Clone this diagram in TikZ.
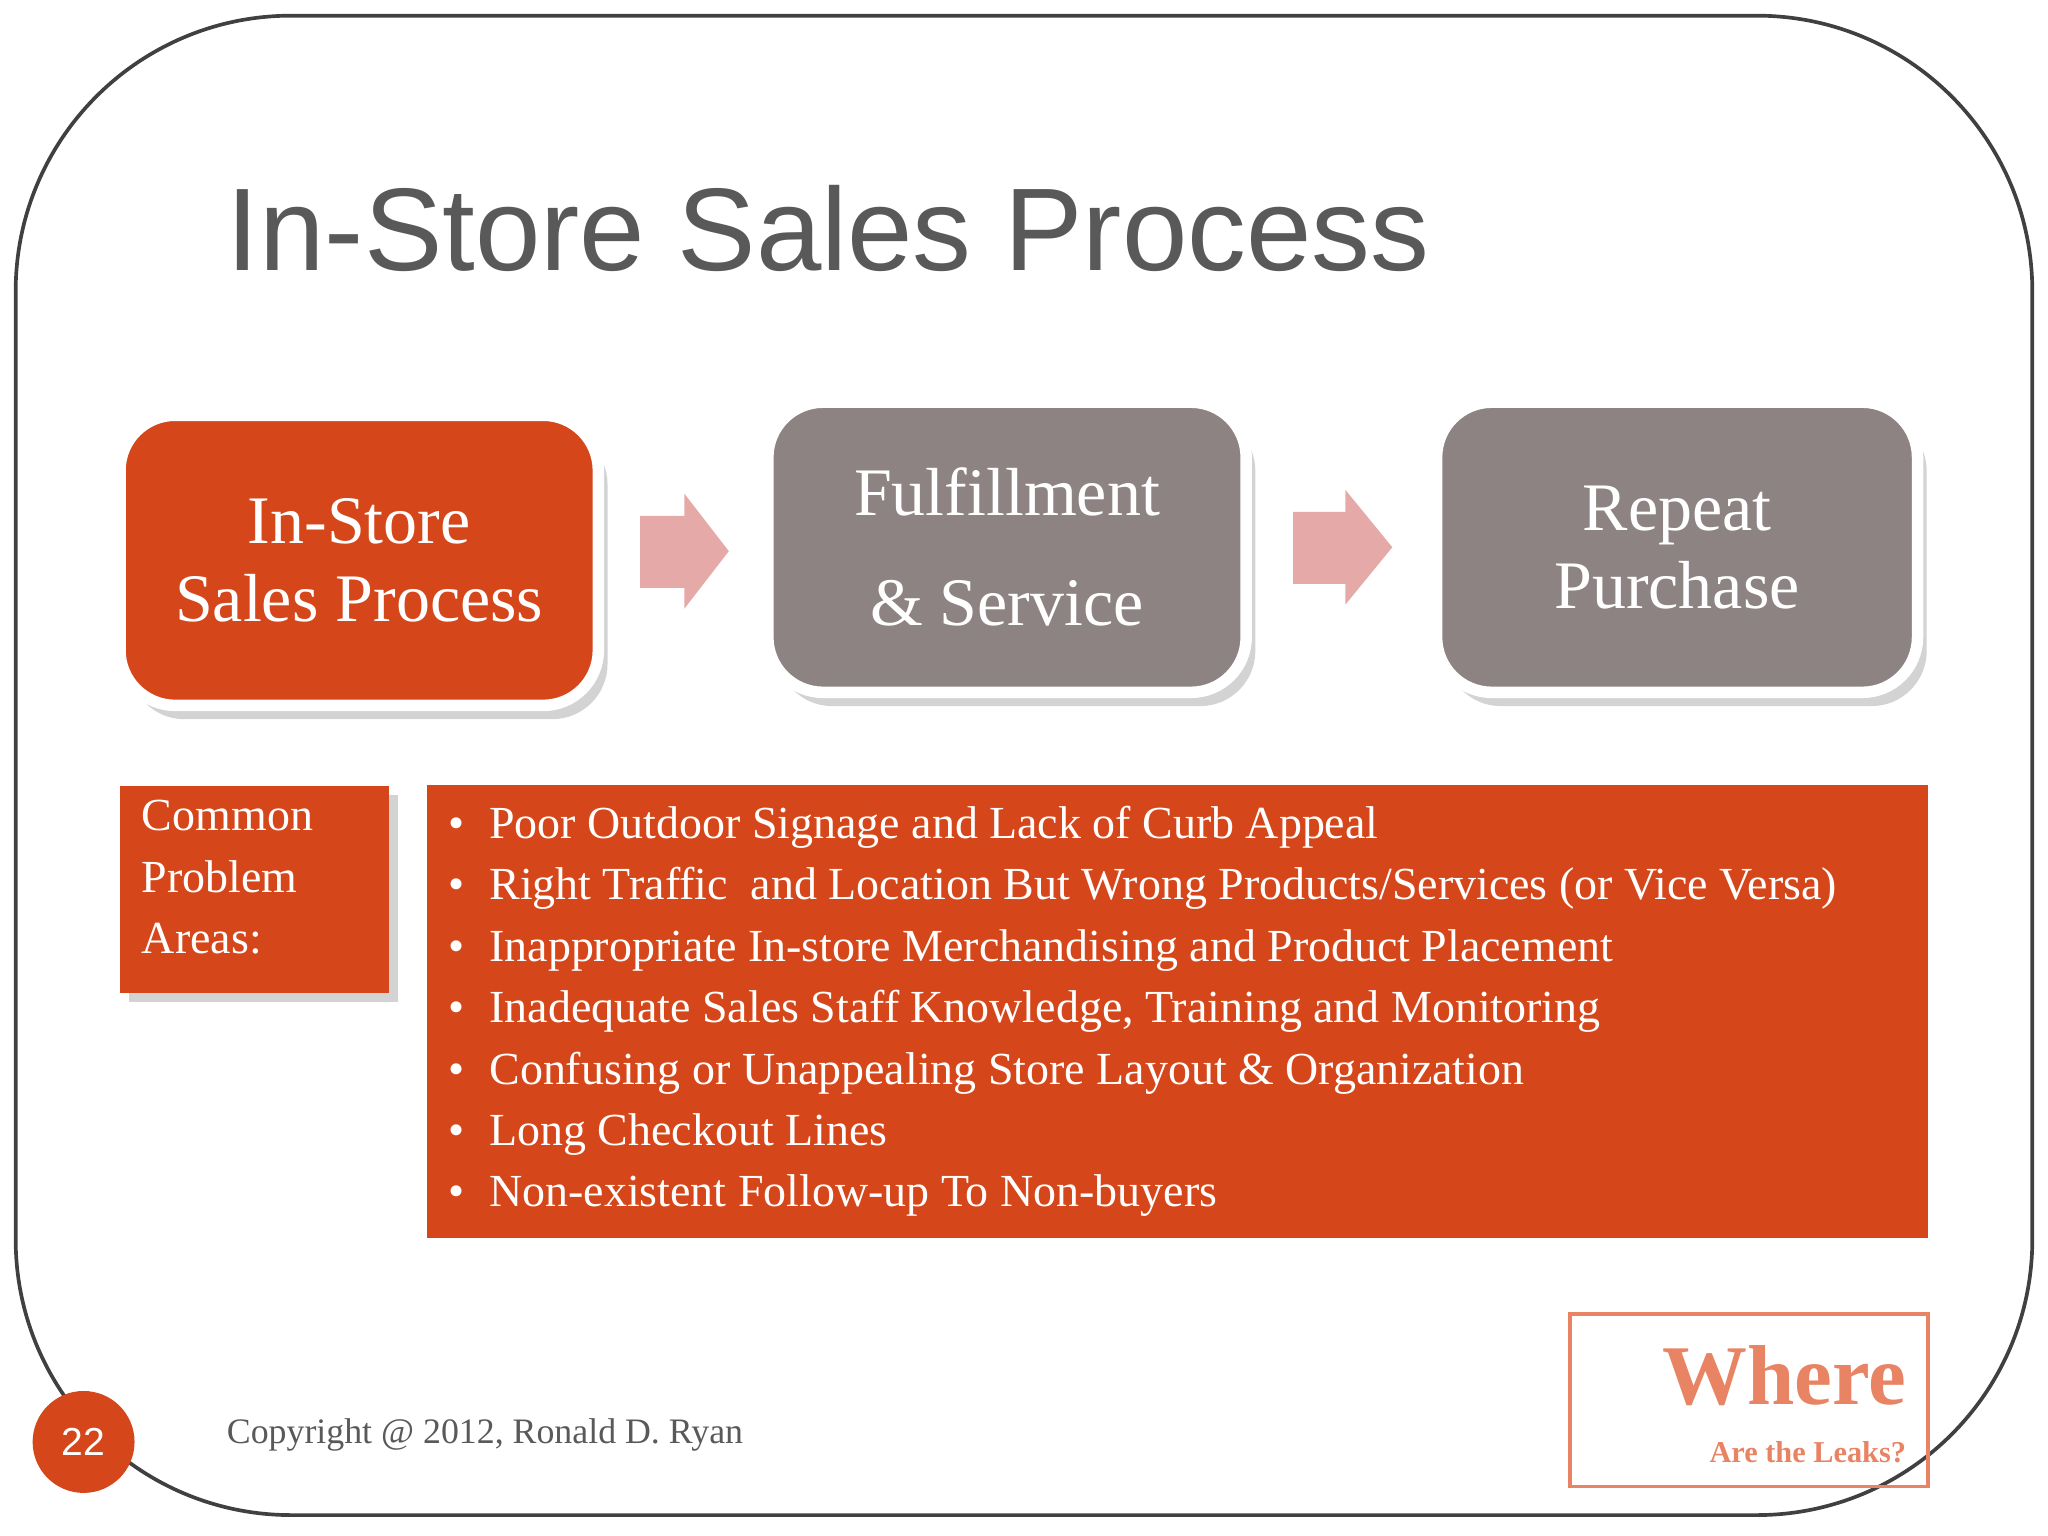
\documentclass[tikz,border=0pt]{standalone}
\usepackage{fontspec}
\setmainfont{Liberation Serif}
\newfontfamily\hsans{Liberation Sans}
\usetikzlibrary{shadows}
\definecolor{rust}{RGB}{213,71,26}
\definecolor{mgray}{RGB}{141,131,131}
\definecolor{pinkar}{RGB}{229,170,168}
\definecolor{ttl}{RGB}{89,89,89}
\definecolor{lorange}{RGB}{232,132,100}
\tikzset{
 stepbox/.style={rounded corners=12pt,draw=white,line width=2.5pt,text=white,align=center,
   drop shadow={shadow xshift=2pt,shadow yshift=-3pt,opacity=.35}},
 bul/.style={anchor=base west,text=white,font=\fontsize{10}{12}\selectfont,inner sep=0pt},
 blk/.style={fill=pinkar}
}
\begin{document}
\begin{tikzpicture}[x=0.01cm,y=-0.01cm]
\useasboundingbox (0,0) rectangle (1568,1176);
\draw[rounded corners=60,draw=black!75,line width=0.8pt] (12,12) rectangle (1556,1160);
\node[anchor=base west,text=ttl,font=\hsans\fontsize{25.6}{30}\selectfont,inner sep=0pt] (title) at (173,207) {In-Store Sales Process};
\node[stepbox,fill=rust,minimum width=3.66cm,minimum height=2.22cm,font=\fontsize{14.8}{17}\selectfont] (b1) at (275,429) {In-Store\\Sales Process};
\node[stepbox,fill=mgray,minimum width=3.66cm,minimum height=2.22cm,font=\fontsize{14.8}{24}\selectfont] (b2) at (771,419) {Fulfillment\\\& Service};
\node[stepbox,fill=mgray,minimum width=3.68cm,minimum height=2.22cm,font=\fontsize{14.8}{17}\selectfont] (b3) at (1284,419) {Repeat\\Purchase};
\fill[blk] (490,395) -- (524,395) -- (524,378) -- (558,422) -- (524,466) -- (524,450) -- (490,450) -- cycle;
\fill[blk] (990,392) -- (1030,392) -- (1030,375) -- (1066,419) -- (1030,463) -- (1030,447) -- (990,447) -- cycle;
\node[fill=rust,minimum width=2.06cm,minimum height=1.58cm,drop shadow={shadow xshift=2pt,shadow yshift=-2pt,opacity=.35}] (cpbox) at (195,681) {};
\node[anchor=north west,text=white,align=left,font=\fontsize{10}{13.4}\selectfont,inner sep=0pt] (cp) at (108,612) {Common\\Problem\\Areas:};
\fill[rust] (327,601) rectangle (1476,948);
\foreach \t [count=\i] in {Poor Outdoor Signage and Lack of Curb Appeal,
 Right Traffic\ \ and Location But Wrong Products/Services (or Vice Versa),
 Inappropriate In-store Merchandising and Product Placement,
 {Inadequate Sales Staff Knowledge, Training and Monitoring},
 Confusing or Unappealing Store Layout \& Organization,
 Long Checkout Lines,
 Non-existent Follow-up To Non-buyers}{
 \node[bul] (bd\i) at (343,{632+(\i-1)*47+10}) {\textbullet};
 \node[bul] (bl\i) at (374,{632+(\i-1)*47+10}) {\t};
}
\node[draw=lorange,line width=0.8pt,minimum width=2.74cm,minimum height=1.32cm] (wbox) at (1339,1072) {};
\node[anchor=base east,text=lorange,font=\bfseries\fontsize{18.5}{20}\selectfont,inner sep=0pt] (where) at (1460,1075) {Where};
\node[anchor=base east,text=lorange,font=\bfseries\fontsize{6.6}{8}\selectfont,inner sep=0pt] (leaks) at (1460,1120) {Are the Leaks?};
\node[circle,fill=rust,minimum size=0.78cm,text=white,font=\hsans\fontsize{8.5}{10}\selectfont,inner sep=0pt] (num) at (64,1104) {22};
\node[anchor=base west,text=ttl,font=\fontsize{7.8}{9}\selectfont,inner sep=0pt] (copy) at (173,1105) {Copyright @ 2012, Ronald D. Ryan};
\end{tikzpicture}
\end{document}
